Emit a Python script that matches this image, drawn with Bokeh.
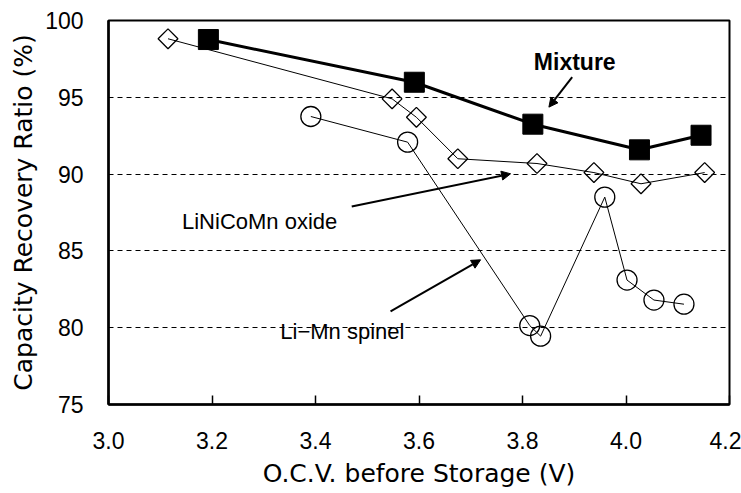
import math
from bokeh.plotting import figure
from bokeh.models import FixedTicker, PrintfTickFormatter, Arrow, NormalHead, Label
from bokeh.embed import file_html
from bokeh.resources import INLINE

# ---- data ----
mix_x = [3.193, 3.591, 3.820, 4.026, 4.145]
mix_y = [98.76, 95.98, 93.25, 91.58, 92.53]

nco_x = [3.115, 3.548, 3.595, 3.675, 3.828, 3.938, 4.029, 4.152]
nco_y = [98.81, 94.90, 93.70, 91.00, 90.69, 90.10, 89.37, 90.10]

lmo_x = [3.391, 3.578, 3.814, 3.835, 3.959, 4.002, 4.054, 4.112]
lmo_y = [93.75, 92.08, 80.14, 79.45, 88.50, 83.10, 81.80, 81.53]

x_ticks = [3.0, 3.2, 3.4, 3.6, 3.8, 4.0, 4.2]
y_ticks = [75, 80, 85, 90, 95, 100]
grid_ticks = [80, 85, 90, 95]

x_title = "O.C.V. before Storage (V)"
y_title = "Capacity Recovery Ratio (%)"

ann_text = ["Mixture", "LiNiCoMn oxide", "Li\u2212Mn spinel"]
ann_x = [3.901, 3.142, 3.332]
ann_y = [97.33, 86.91, 79.75]

arr_x0 = [3.896, 3.470, 3.545]
arr_y0 = [96.31, 87.89, 81.07]
arr_x1 = [3.851, 3.777, 3.719]
arr_y1 = [94.36, 90.02, 84.42]

# ---- figure ----
p = figure(width=741, height=493, x_range=(3.0, 4.2), y_range=(75, 100),
           output_backend="svg", toolbar_location=None,
           min_border_left=108, min_border_right=12,
           min_border_top=20, min_border_bottom=89)
p.background_fill_color = "white"
p.border_fill_color = "white"
p.outline_line_color = "black"
p.outline_line_width = 2

# grid
p.xgrid.visible = False
p.ygrid.ticker = FixedTicker(ticks=grid_ticks)
p.ygrid.grid_line_color = "black"
p.ygrid.grid_line_width = 1
p.ygrid.grid_line_dash = "5 4"

# axes
p.xaxis.ticker = FixedTicker(ticks=x_ticks)
p.xaxis.formatter = PrintfTickFormatter(format="%.1f")
p.xaxis.major_tick_in = 9
p.xaxis.major_tick_out = 0
p.xaxis.minor_tick_line_color = None
p.xaxis.major_tick_line_width = 1.5
p.xaxis.major_label_standoff = 27
p.xaxis.axis_label = x_title
p.xaxis.axis_label_standoff = 7

p.yaxis.ticker = FixedTicker(ticks=y_ticks)
p.yaxis.major_tick_in = 0
p.yaxis.major_tick_out = 0
p.yaxis.minor_tick_line_color = None
p.yaxis.major_label_standoff = 25
p.yaxis.axis_label = y_title
p.yaxis.axis_label_standoff = 4

for ax in (p.xaxis[0], p.yaxis[0]):
    ax.axis_line_width = 2.5
    ax.axis_line_color = "black"
    ax.major_label_text_font = "Liberation Sans"
    ax.major_label_text_font_size = "23px"
    ax.major_label_text_color = "black"
    ax.axis_label_text_font = "DejaVu Sans"
    ax.axis_label_text_font_size = "25px"
    ax.axis_label_text_font_style = "normal"
    ax.axis_label_text_color = "black"

# series
p.line(lmo_x, lmo_y, line_color="black", line_width=1)
p.scatter(lmo_x, lmo_y, marker="circle", size=20, fill_color=None,
          line_color="black", line_width=1.3)

p.line(nco_x, nco_y, line_color="black", line_width=1)
p.scatter(nco_x, nco_y, marker="square", size=14, angle=math.pi / 4,
          fill_color=None, line_color="black", line_width=1.3)

p.line(mix_x, mix_y, line_color="black", line_width=3)
p.scatter(mix_x, mix_y, marker="square", size=20, fill_color="black",
          line_color="black")

# annotations
for i, t in enumerate(ann_text):
    lab = Label(x=ann_x[i], y=ann_y[i], text=t,
                text_font="Liberation Sans",
                text_font_size="23px" if i == 0 else "22px",
                text_font_style="bold" if i == 0 else "normal",
                text_align="center" if i == 0 else "left",
                text_baseline="middle", text_color="black")
    p.add_layout(lab)

for i in range(len(arr_x0)):
    p.add_layout(Arrow(end=NormalHead(size=9, fill_color="black",
                                      line_color="black"),
                       x_start=arr_x0[i], y_start=arr_y0[i],
                       x_end=arr_x1[i], y_end=arr_y1[i],
                       line_width=2, line_color="black"))

open("out.html", "w").write(file_html(p, INLINE))
